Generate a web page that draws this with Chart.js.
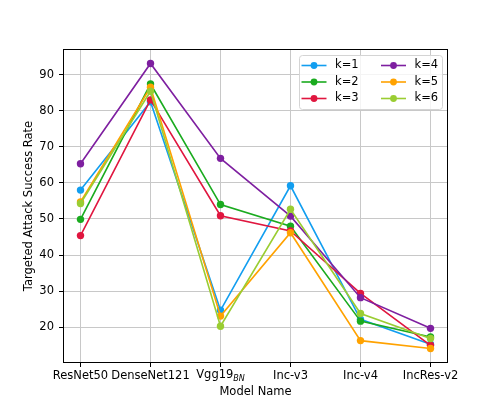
<!DOCTYPE html>
<html>
<head>
<meta charset="utf-8">
<script src="https://cdn.jsdelivr.net/npm/chart.js@4.4.1/dist/chart.umd.min.js"></script>
<style>
  html, body { margin: 0; padding: 0; background: #fff; }
  #wrap { width: 498px; height: 415px; }
</style>
</head>
<body>
<div id="wrap"><canvas id="chart" width="498" height="415"></canvas></div>
<script>
const models = ["ResNet50", "DenseNet121", "Vgg19_BN", "Inc-v3", "Inc-v4", "IncRes-v2"];
const yTicks = [20, 30, 40, 50, 60, 70, 80, 90];

const k1 = [58.0, 82.5, 24.7, 59.2, 22.2, 15.3];
const k2 = [49.9, 87.4, 54.0, 48.0, 21.7, 17.3];
const k3 = [45.4, 83.0, 50.9, 46.7, 29.4, 15.0];
const k4 = [65.3, 93.1, 66.8, 50.8, 28.2, 19.7];
const k5 = [54.7, 86.5, 23.1, 46.2, 16.3, 14.1];
const k6 = [54.3, 85.4, 20.3, 52.7, 23.8, 16.9];

const seriesLabels = ["k=1", "k=2", "k=3", "k=4", "k=5", "k=6"];
const colors = ["#129ef0", "#1aab1f", "#e0163f", "#7e1fa0", "#ffa200", "#9acd32"];
const FONT = "DejaVu Sans";
const FS = 11.5;

const allSeries = [k1, k2, k3, k4, k5, k6];

const datasets = allSeries.map((vals, i) => ({
  label: seriesLabels[i],
  data: vals.map((v, j) => ({ x: j, y: v })),
  borderColor: colors[i],
  backgroundColor: colors[i],
  borderWidth: 1.6,
  pointRadius: 3.7,
  pointBorderWidth: 0,
  pointHoverRadius: 3.7,
  order: allSeries.length - i,
  tension: 0,
}));

// frame, axis titles, subscript label and the legend box
const extras = {
  id: "extras",
  afterDatasetsDraw(chart) {
    const { ctx, chartArea: a, scales } = chart;
    ctx.save();
    ctx.strokeStyle = "#000";
    ctx.lineWidth = 1;
    ctx.strokeRect(a.left + 0.5, a.top + 0.5, a.right - a.left - 1, a.bottom - a.top - 1);

    // Vgg19_BN tick label
    ctx.fillStyle = "#000";
    ctx.textBaseline = "middle";
    ctx.textAlign = "left";
    const xv = scales.x.getPixelForValue(2);
    ctx.font = `${FS}px '${FONT}'`;
    const w1 = ctx.measureText("Vgg19").width;
    ctx.font = `italic 8px '${FONT}'`;
    const w2 = ctx.measureText("BN").width;
    const sx = xv - (w1 + w2) / 2;
    ctx.font = `${FS}px '${FONT}'`;
    ctx.fillText("Vgg19", sx, 375.5);
    ctx.font = `italic 8px '${FONT}'`;
    ctx.fillText("BN", sx + w1, 379);

    // axis titles
    ctx.font = `${FS}px '${FONT}'`;
    ctx.textAlign = "center";
    ctx.fillText("Model Name", (a.left + a.right) / 2, 392.5);
    ctx.save();
    ctx.translate(29.5, (a.top + a.bottom) / 2);
    ctx.rotate(-Math.PI / 2);
    ctx.fillText("Targeted Attack Success Rate", 0, 0);
    ctx.restore();

    // legend
    const bx = 299, by = 55, bw = 143, bh = 54;
    ctx.beginPath();
    ctx.roundRect(bx + 0.5, by + 0.5, bw, bh, 3);
    ctx.fillStyle = "rgba(255,255,255,0.8)";
    ctx.fill();
    ctx.strokeStyle = "#d4d4d4";
    ctx.lineWidth = 1;
    ctx.stroke();
    const rows = [65.5, 82, 98.5];
    const cols = [301.5, 381];
    chart.data.datasets.forEach((ds, i) => {
      const cx = cols[Math.floor(i / 3)];
      const cy = rows[i % 3];
      ctx.strokeStyle = ds.borderColor;
      ctx.lineWidth = 1.6;
      ctx.beginPath();
      ctx.moveTo(cx, cy);
      ctx.lineTo(cx + 25, cy);
      ctx.stroke();
      ctx.fillStyle = ds.borderColor;
      ctx.beginPath();
      ctx.arc(cx + 12.5, cy, 3.4, 0, Math.PI * 2);
      ctx.fill();
      ctx.fillStyle = "#000";
      ctx.font = `${FS}px '${FONT}'`;
      ctx.textAlign = "left";
      ctx.textBaseline = "middle";
      ctx.fillText(ds.label, cx + 33.5, cy);
    });
    ctx.restore();
  },
};

new Chart(document.getElementById("chart"), {
  type: "line",
  data: { datasets },
  plugins: [extras],
  options: {
    responsive: false,
    animation: false,
    layout: { padding: { top: 49, right: 50, left: 0, bottom: 0 } },
    plugins: { legend: { display: false }, tooltip: { enabled: false } },
    scales: {
      x: {
        type: "linear",
        min: -0.25,
        max: models.length - 0.75,
        afterBuildTicks: s => { s.ticks = models.map((m, i) => ({ value: i })); },
        afterFit: s => { s.height = 52; },
        ticks: {
          color: "#000",
          font: { family: FONT, size: FS },
          padding: 2,
          maxRotation: 0,
          autoSkip: false,
          callback: v => (models[v] === "Vgg19_BN" ? "" : models[v]),
        },
        grid: { color: "#c8c8c8", lineWidth: 1, tickColor: "#000", tickLength: 4, tickWidth: 1 },
        border: { display: false },
      },
      y: {
        min: 10.1,
        max: 97.1,
        afterBuildTicks: s => { s.ticks = yTicks.map(v => ({ value: v })); },
        afterFit: s => { s.width = 63; },
        ticks: {
          color: "#000",
          font: { family: FONT, size: FS },
          padding: 5,
          callback: v => String(v),
        },
        grid: { color: "#c8c8c8", lineWidth: 1, tickColor: "#000", tickLength: 4, tickWidth: 1 },
        border: { display: false },
      },
    },
  },
});
</script>
</body>
</html>
